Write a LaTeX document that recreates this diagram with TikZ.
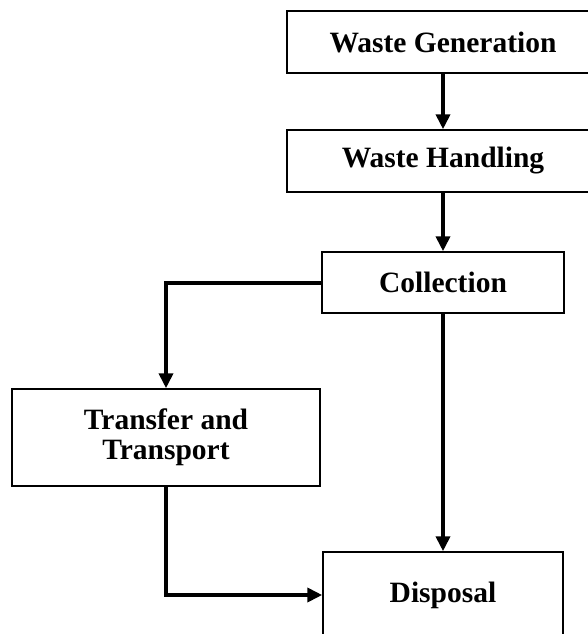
\documentclass[tikz,border=0pt]{standalone}
\usepackage{fontspec}
\setmainfont{Liberation Serif}
\usetikzlibrary{arrows.meta}
\tikzset{
  stage/.style={draw, line width=1.5pt, inner sep=0pt, align=center,
    font=\bfseries\fontsize{29.5}{30}\selectfont},
  flow/.style={line width=4pt, -{Triangle[width=14pt,length=15pt]}}
}
\begin{document}
\begin{tikzpicture}[x=1pt,y=-1pt]
  \clip (0,0) rectangle (588,634);
  \fill[white] (0,0) rectangle (588,634);
  % process stages
  \node[stage, minimum width=312pt, minimum height=62pt] (gen)  at (443,42)    {Waste Generation};
  \node[stage, minimum width=312pt, minimum height=62pt] (hand) at (443,161)   {Waste Handling};
  \node[stage, minimum width=242pt, minimum height=61pt] (coll) at (443,282.5) {Collection};
  \node[stage, minimum width=308pt, minimum height=97pt] (trans) at (166,437.5) {Transfer and\\Transport};
  \node[stage, minimum width=240pt, minimum height=86pt] (disp) at (443,595)  {Disposal};
  % flow connectors
  \draw[flow] (gen) -- (hand);
  \draw[flow] (hand) -- (coll);
  \draw[flow] (coll.west) -| (trans.north);
  \draw[flow] (coll) -- (disp);
  \draw[flow] (trans.south) |- (disp.west);
\end{tikzpicture}
\end{document}
